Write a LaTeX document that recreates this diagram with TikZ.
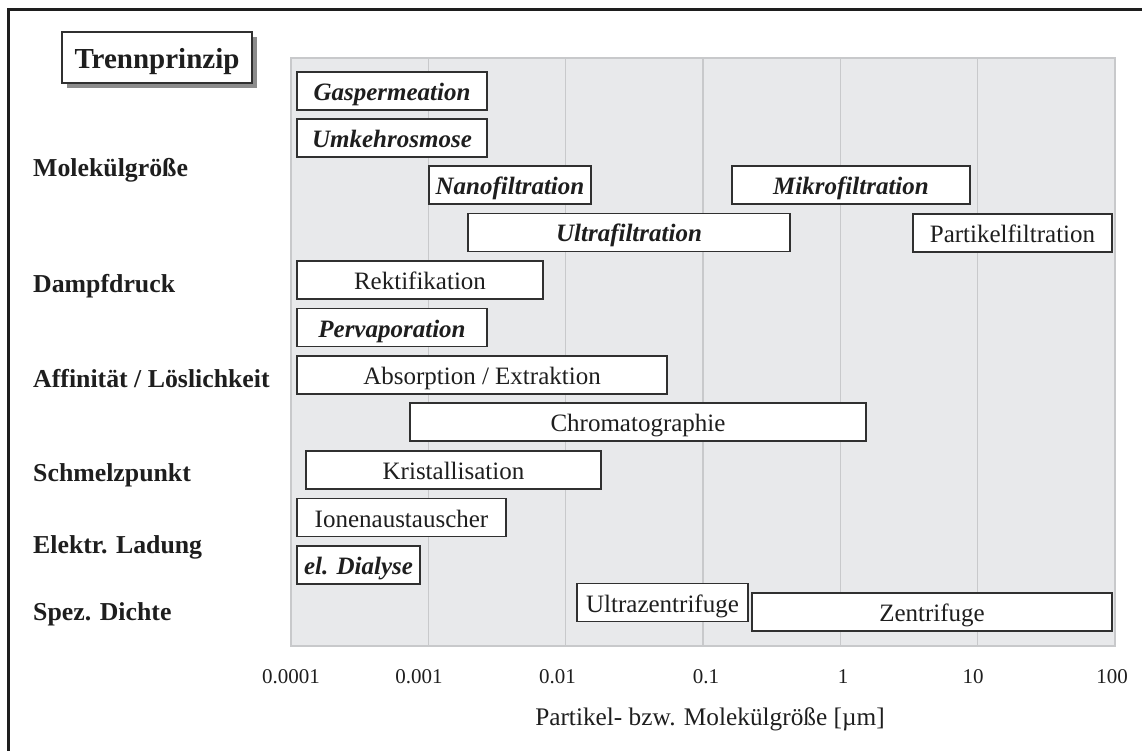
\documentclass[tikz,border=0pt]{standalone}
\usepackage{fontspec}
\setmainfont{Liberation Serif}
\usetikzlibrary{shadows}
\definecolor{plotbg}{HTML}{E8E9EB}
\definecolor{gridc}{HTML}{C8C9CB}
\definecolor{ink}{HTML}{1E1E1E}
\definecolor{boxline}{HTML}{303030}
\begin{document}
\begin{tikzpicture}[x=1pt,y=-1pt,
  proc/.style={draw=boxline, fill=white, line width=1.6pt, inner sep=0pt,
    minimum height=38pt, text height=22pt, text depth=3pt,
    font=\fontsize{25}{28}\selectfont, text=ink},
  memb/.style={proc, font=\fontsize{25}{28}\selectfont\bfseries\itshape},
  crit/.style={anchor=base west, inner sep=0pt, text=ink,
    font=\fontsize{25.8}{28}\selectfont\bfseries},
  ticklab/.style={anchor=base, inner sep=0pt, text=ink,
    font=\fontsize{21}{24}\selectfont},
  gridline/.style={draw=gridc, line width=1.4pt}
]
\useasboundingbox (0,0) rectangle (1142,751);

% outer frame (left and top edges)
\draw[ink, line width=3.6pt] (8.3,760) -- (8.3,9.5) -- (1150,9.5);

% plot area with decade grid lines
\filldraw[fill=plotbg, gridline] (291,58) rectangle (1115,646);
\foreach \k in {1,...,5}
  \draw[gridline] ({291+137.33*\k},58) -- ({291+137.33*\k},646);

% heading box
\node[draw=boxline, fill=white, line width=1.6pt, inner sep=0pt,
  minimum width=190pt, minimum height=51pt, text height=24pt, text depth=2pt,
  font=\fontsize{29}{32}\selectfont\bfseries, text=ink,
  drop shadow={shadow xshift=5pt, shadow yshift=-5pt, fill=black!45, opacity=1}]
  (head) at (157,57.5) {Trennprinzip};

% separation criteria
\node[crit] (c1) at (33,177) {Molekülgröße};
\node[crit] (c2) at (33,292) {Dampfdruck};
\node[crit] (c3) at (33,387) {Affinität / Löslichkeit};
\node[crit] (c4) at (33,481) {Schmelzpunkt};
\node[crit] (c5) at (33,553) {Elektr. Ladung};
\node[crit] (c6) at (33,620) {Spez. Dichte};

% separation processes (membrane processes in bold italics)
\node[memb, minimum width=190pt] (gasp)  at (392,91)      {Gaspermeation};
\node[memb, minimum width=190pt] (umk)   at (392,138)     {Umkehrosmose};
\node[memb, minimum width=162pt] (nano)  at (510,185)     {Nanofiltration};
\node[memb, minimum width=238pt] (mikro) at (851,185)     {Mikrofiltration};
\node[memb, minimum width=322pt] (ultra) at (629,232.5)   {Ultrafiltration};
\node[proc, minimum width=199pt] (part)  at (1012.5,233)  {Partikelfiltration};
\node[proc, minimum width=246pt] (rekt)  at (420,280)     {Rektifikation};
\node[memb, minimum width=190pt] (perv)  at (392,327.5)   {Pervaporation};
\node[proc, minimum width=370pt] (abs)   at (482,375)     {Absorption / Extraktion};
\node[proc, minimum width=456pt] (chrom) at (638,422)     {Chromatographie};
\node[proc, minimum width=295pt] (krist) at (453.5,470)   {Kristallisation};
\node[proc, minimum width=209pt] (ionen) at (401.5,517.5) {Ionenaustauscher};
\node[memb, minimum width=123pt] (dial)  at (358.5,565)   {el. Dialyse};
\node[proc, minimum width=171pt] (uzent) at (662.5,602.5) {Ultrazentrifuge};
\node[proc, minimum width=360pt] (zent)  at (932,612)     {Zentrifuge};

% axis labels
\node[ticklab] (t0) at (291,683)  {0.0001};
\node[ticklab] (t1) at (419,683)  {0.001};
\node[ticklab] (t2) at (557.5,683) {0.01};
\node[ticklab] (t3) at (706,683)  {0.1};
\node[ticklab] (t4) at (843,683)  {1};
\node[ticklab] (t5) at (973,683)  {10};
\node[ticklab] (t6) at (1112,683) {100};
\node[anchor=base, inner sep=0pt, text=ink, font=\fontsize{25.3}{28}\selectfont]
  (xlab) at (710,725) {Partikel- bzw. Molekülgröße [µm]};
\end{tikzpicture}
\end{document}
